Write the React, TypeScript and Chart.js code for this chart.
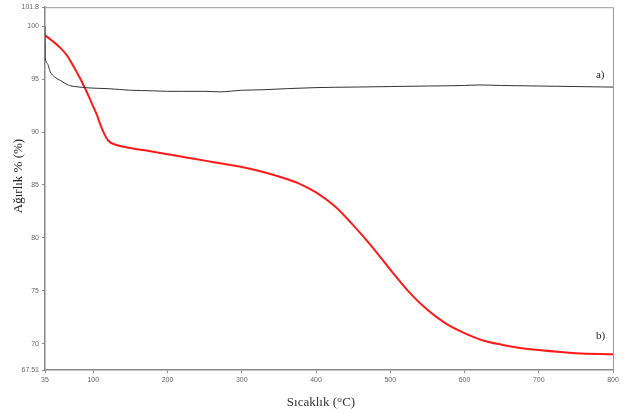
import React, { useEffect, useRef } from "react";
import { Chart, registerables } from "chart.js";

Chart.register(...registerables);

const xTicks = [35, 100, 200, 300, 400, 500, 600, 700, 800];
const yTicks = [67.51, 70, 75, 80, 85, 90, 95, 100, 101.8];

const tempA = [35, 35.5, 38, 42, 48, 55, 62, 68, 82, 100, 120, 150, 180, 200, 220, 250, 270, 300, 330, 360, 400, 450, 500, 550, 600, 620, 650, 700, 750, 800];
const massA = [100, 97.0, 96.5, 95.7, 95.2, 94.9, 94.6, 94.4, 94.25, 94.15, 94.1, 93.95, 93.9, 93.85, 93.85, 93.85, 93.8, 93.95, 94.0, 94.1, 94.2, 94.25, 94.3, 94.35, 94.4, 94.45, 94.4, 94.35, 94.3, 94.25];

const tempB = [35, 45, 55, 65, 75, 85, 95, 100, 105, 110, 115, 120, 130, 150, 175, 200, 225, 250, 275, 300, 325, 350, 375, 400, 425, 450, 475, 500, 525, 550, 575, 600, 625, 650, 675, 700, 750, 800];
const massB = [99.15, 98.6, 98.0, 97.2, 96.0, 94.7, 93.2, 92.4, 91.6, 90.6, 89.8, 89.2, 88.8, 88.5, 88.2, 87.9, 87.6, 87.3, 87.0, 86.7, 86.3, 85.8, 85.2, 84.3, 83.0, 81.2, 79.2, 77.0, 74.9, 73.2, 71.9, 71.0, 70.3, 69.9, 69.6, 69.4, 69.1, 69.0];

const labelA = "a)";
const labelB = "b)";
const xTitle = "Sıcaklık (°C)";
const yTitle = "Ağırlık % (%)";

export default function App() {
  const ref = useRef<HTMLCanvasElement>(null);
  useEffect(() => {
    document.body.style.margin = "0";
    const frame = {
      id: "frame",
      afterDraw(chart: any) {
        const { ctx, chartArea: a, scales } = chart;
        ctx.save();
        ctx.strokeStyle = "#999";
        ctx.lineWidth = 1;
        ctx.beginPath();
        ctx.moveTo(a.left, a.top + 0.5);
        ctx.lineTo(a.right + 0.5, a.top + 0.5);
        ctx.lineTo(a.right + 0.5, a.bottom);
        ctx.stroke();
        ctx.fillStyle = "#222";
        ctx.font = "11px 'Liberation Serif'";
        ctx.textAlign = "left";
        ctx.textBaseline = "middle";
        ctx.fillText(labelA, scales.x.getPixelForValue(777), scales.y.getPixelForValue(95.4));
        ctx.fillText(labelB, scales.x.getPixelForValue(777), scales.y.getPixelForValue(70.7));
        ctx.fillStyle = "#333";
        ctx.font = "13px 'Liberation Serif'";
        ctx.textAlign = "center";
        ctx.fillText(xTitle, 321, 403);
        ctx.save();
        ctx.translate(19, 176);
        ctx.rotate(-Math.PI / 2);
        ctx.fillStyle = "#222";
        ctx.font = "13px 'Liberation Serif'";
        ctx.fillText(yTitle, 0, 0);
        ctx.restore();
        ctx.restore();
      },
    };
    const chart = new Chart(ref.current!, {
      type: "line",
      data: {
        datasets: [
          {
            data: tempA.map((t, i) => ({ x: t, y: massA[i] })),
            borderColor: "#333",
            borderWidth: 1,
            pointRadius: 0,
            cubicInterpolationMode: "monotone",
          },
          {
            data: tempB.map((t, i) => ({ x: t, y: massB[i] })),
            borderColor: "#ff1a1a",
            borderWidth: 2,
            pointRadius: 0,
            cubicInterpolationMode: "monotone",
          },
        ],
      },
      options: {
        animation: false,
        responsive: false,
        layout: { padding: { left: 0, right: 12, top: 5, bottom: 0 } },
        plugins: { legend: { display: false }, tooltip: { enabled: false } },
        scales: {
          x: {
            type: "linear",
            min: 35,
            max: 800,
            afterBuildTicks: (s: any) => {
              s.ticks = xTicks.map((v) => ({ value: v }));
            },
            afterFit: (s: any) => {
              s.height = 44;
            },
            grid: { drawOnChartArea: false, tickLength: 3, color: "#888" },
            border: { color: "#888", width: 1.5 },
            ticks: {
              autoSkip: false,
              maxRotation: 0,
              padding: 3,
              color: "#666",
              font: { size: 7, family: "'Liberation Sans'" },
              callback: (v: any) => String(v),
            },
          },
          y: {
            min: 67.51,
            max: 101.8,
            afterBuildTicks: (s: any) => {
              s.ticks = yTicks.map((v) => ({ value: v }));
            },
            afterFit: (s: any) => {
              s.width = 45;
            },
            grid: { drawOnChartArea: false, tickLength: 3, color: "#888" },
            border: { color: "#888", width: 1.5 },
            ticks: {
              autoSkip: false,
              padding: 3,
              color: "#666",
              font: { size: 7, family: "'Liberation Sans'" },
              callback: (v: any) => String(v),
            },
          },
        },
      },
      plugins: [frame],
    });
    return () => chart.destroy();
  }, []);
  return (
    <div style={{ position: "fixed", left: 0, top: 0, width: 625, height: 414, background: "#fff" }}>
      <canvas ref={ref} width={625} height={414} />
    </div>
  );
}
